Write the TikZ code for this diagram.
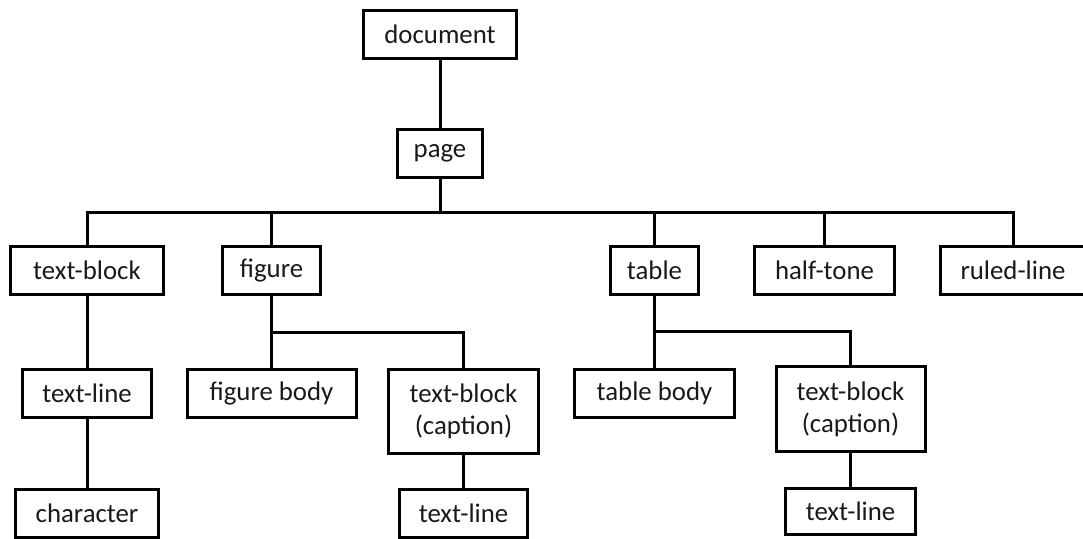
\documentclass[tikz,border=0pt]{standalone}
\usepackage{fontspec}
\setmainfont{Carlito}
\begin{document}
\begin{tikzpicture}[x=1pt,y=-1pt,
  box/.style={draw=black, line width=3pt, inner sep=0pt, align=center,
    minimum height=48pt, text=black!90,
    font=\fontsize{26.8}{32}\selectfont},
  link/.style={line width=3pt, draw=black, line join=miter}]
\useasboundingbox (0,0) rectangle (1083,538);
\clip (0,0) rectangle (1083,538);
% level 0/1
\node[box, minimum width=153pt] (document) at (440,34.5) {document};
\node[box, minimum width=85pt] (page) at (440,153.5) {page};
% level 2
\node[box, minimum width=153pt] (tblock) at (87,270.5) {text-block};
\node[box, minimum width=98pt] (figure) at (271.5,270.5) {figure};
\node[box, minimum width=88pt] (table) at (654.5,270.5) {table};
\node[box, minimum width=140pt] (halftone) at (824.5,270.5) {half-tone};
\node[box, minimum width=145pt] (ruled) at (1013,270.5) {ruled-line};
% level 3
\node[box, minimum width=129pt] (tline) at (87,393.5) {text-line};
\node[box, minimum width=169pt] (figbody) at (271.5,393.5) {figure body};
\node[box, minimum width=150pt, minimum height=84pt] (capa) at (463.5,411.5) {text-block\\(caption)};
\node[box, minimum width=160pt] (tabbody) at (654.5,393) {table body};
\node[box, minimum width=149pt, minimum height=85pt] (capb) at (850.5,409) {text-block\\(caption)};
% level 4
\node[box, minimum width=143pt] (character) at (87,513.5) {character};
\node[box, minimum width=128pt] (tlinea) at (463.5,513) {text-line};
\node[box, minimum width=130pt, minimum height=46pt] (tlineb) at (850.5,511.5) {text-line};
% junctions
\coordinate (bus) at (440,212);
\coordinate (fj) at (271.5,332);
\coordinate (tj) at (654.5,331);
% connectors
\draw[link] (document.south) -- (page.north);
\draw[link] (page.south) -- (bus);
\draw[link] (tblock.north) |- (bus);
\draw[link] (figure.north) |- (bus);
\draw[link] (table.north) |- (bus);
\draw[link] (halftone.north) |- (bus);
\draw[link] (ruled.north) |- (bus);
\draw[link] (tblock.south) -- (tline.north);
\draw[link] (tline.south) -- (character.north);
\draw[link] (figure.south) -- (figbody.north);
\draw[link] (capa.north) |- (fj);
\draw[link] (capa.south) -- (tlinea.north);
\draw[link] (table.south) -- (tabbody.north);
\draw[link] (capb.north) |- (tj);
\draw[link] (capb.south) -- (tlineb.north);
\end{tikzpicture}
\end{document}
